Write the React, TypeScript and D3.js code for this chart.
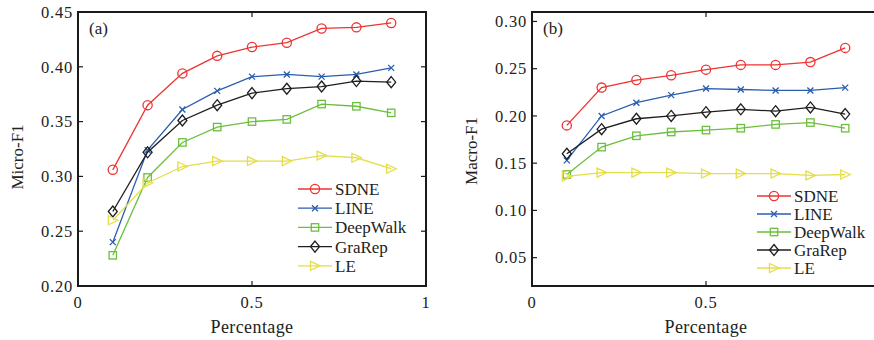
import React from "react";
import * as d3 from "d3";

const percentages = [0.1, 0.2, 0.3, 0.4, 0.5, 0.6, 0.7, 0.8, 0.9];
const methods = ["SDNE", "LINE", "DeepWalk", "GraRep", "LE"];

const microSDNE = [0.306, 0.365, 0.394, 0.41, 0.418, 0.422, 0.435, 0.436, 0.44];
const microLINE = [0.24, 0.324, 0.361, 0.378, 0.391, 0.393, 0.391, 0.393, 0.399];
const microDeepWalk = [0.228, 0.299, 0.331, 0.345, 0.35, 0.352, 0.366, 0.364, 0.358];
const microGraRep = [0.268, 0.322, 0.351, 0.365, 0.376, 0.38, 0.382, 0.387, 0.386];
const microLE = [0.26, 0.294, 0.309, 0.314, 0.314, 0.314, 0.319, 0.317, 0.307];

const macroSDNE = [0.19, 0.23, 0.238, 0.243, 0.249, 0.254, 0.254, 0.257, 0.272];
const macroLINE = [0.153, 0.2, 0.214, 0.222, 0.229, 0.228, 0.227, 0.227, 0.23];
const macroDeepWalk = [0.138, 0.167, 0.179, 0.183, 0.185, 0.187, 0.191, 0.193, 0.187];
const macroGraRep = [0.16, 0.186, 0.197, 0.2, 0.204, 0.207, 0.205, 0.209, 0.202];
const macroLE = [0.136, 0.14, 0.14, 0.14, 0.139, 0.139, 0.139, 0.137, 0.138];

const microTicks = [0.2, 0.25, 0.3, 0.35, 0.4, 0.45];
const macroTicks = [0.05, 0.1, 0.15, 0.2, 0.25, 0.3];
const xTicks = [0, 0.5, 1];

const colors: Record<string, string> = {
  SDNE: "#ee3333",
  LINE: "#2a5db0",
  DeepWalk: "#6cbf3c",
  GraRep: "#1e1e1e",
  LE: "#e4de48",
};

const FONT = "'Liberation Serif', 'Times New Roman', serif";
const W = 874;

function Marker({ kind, x, y, color }: { kind: string; x: number; y: number; color: string }) {
  const common = { fill: "none", stroke: color, strokeWidth: 1.3 };
  switch (kind) {
    case "SDNE":
      return <circle cx={x} cy={y} r={4.6} {...common} />;
    case "LINE":
      return (
        <path d={`M${x - 3},${y - 3}L${x + 3},${y + 3}M${x - 3},${y + 3}L${x + 3},${y - 3}`} {...common} />
      );
    case "DeepWalk":
      return <rect x={x - 3.7} y={y - 3.7} width={7.4} height={7.4} {...common} />;
    case "GraRep":
      return <path d={`M${x},${y - 5.5}L${x + 4.5},${y}L${x},${y + 5.5}L${x - 4.5},${y}Z`} {...common} />;
    default:
      return <path d={`M${x - 4.5},${y - 4.5}L${x + 5},${y}L${x - 4.5},${y + 4.5}Z`} {...common} />;
  }
}

type PanelProps = {
  left: number;
  right: number;
  top: number;
  bottom: number;
  yDomain: [number, number];
  yTicks: number[];
  series: number[][];
  yLabel: string;
  yLabelX: number;
  yLabelY: number;
  tag: string;
  legendX: number;
  legendY: number;
  legendStep: number;
  rightBorder: boolean;
};

function Panel(p: PanelProps) {
  const x = d3.scaleLinear().domain([0, 1]).range([p.left, p.right]);
  const y = d3.scaleLinear().domain(p.yDomain).range([p.bottom, p.top]);
  const line = d3
    .line<number>()
    .x((_, i) => x(percentages[i]))
    .y((d) => y(d));
  const tl = 5;
  const fmt = d3.format(".2f");

  return (
    <g fontFamily={FONT} fill="#222">
      {p.series.map((vals, si) => (
        <g key={methods[si]}>
          <path d={line(vals) || ""} fill="none" stroke={colors[methods[si]]} strokeWidth={1.3} />
          {vals.map((v, i) => (
            <Marker key={i} kind={methods[si]} x={x(percentages[i])} y={y(v)} color={colors[methods[si]]} />
          ))}
        </g>
      ))}

      {/* frame; panel (b) runs past the right edge of the picture */}
      <path
        d={
          p.rightBorder
            ? `M${p.left},${p.top}H${p.right}V${p.bottom}H${p.left}Z`
            : `M${p.right + 20},${p.top}H${p.left}V${p.bottom}H${p.right + 20}`
        }
        fill="none"
        stroke="#1a1a1a"
        strokeWidth={2}
      />

      {p.yTicks.map((t) => (
        <g key={t}>
          <line x1={p.left} x2={p.left + tl} y1={y(t)} y2={y(t)} stroke="#1a1a1a" strokeWidth={1.2} />
          <line x1={p.right} x2={p.right - tl} y1={y(t)} y2={y(t)} stroke="#1a1a1a" strokeWidth={1.2} />
          <text x={p.left - 5} y={y(t)} dy="0.35em" textAnchor="end" fontSize={16.5} letterSpacing={0.8}>
            {fmt(t)}
          </text>
        </g>
      ))}
      {xTicks
        .filter((t) => x(t) < W - 4)
        .map((t) => (
          <g key={t}>
            <line x1={x(t)} x2={x(t)} y1={p.bottom} y2={p.bottom - tl} stroke="#1a1a1a" strokeWidth={1.2} />
            <line x1={x(t)} x2={x(t)} y1={p.top} y2={p.top + tl} stroke="#1a1a1a" strokeWidth={1.2} />
            <text x={x(t)} y={308} textAnchor="middle" fontSize={16.5} letterSpacing={0.8}>
              {String(t)}
            </text>
          </g>
        ))}

      <text x={x(0.5)} y={333} textAnchor="middle" fontSize={18} letterSpacing={0.4}>
        Percentage
      </text>
      <text
        transform={`translate(${p.yLabelX},${p.yLabelY}) rotate(-90)`}
        textAnchor="middle"
        fontSize={17}
      >
        {p.yLabel}
      </text>
      <text x={p.left + 11} y={34} fontSize={17}>
        {p.tag}
      </text>

      {methods.map((m, i) => {
        const ly = p.legendY + i * p.legendStep;
        return (
          <g key={m}>
            <line x1={p.legendX} x2={p.legendX + 34} y1={ly} y2={ly} stroke={colors[m]} strokeWidth={1.3} />
            <Marker kind={m} x={p.legendX + 17} y={ly} color={colors[m]} />
            <text x={p.legendX + 37} y={ly} dy="0.35em" fontSize={17}>
              {m}
            </text>
          </g>
        );
      })}
    </g>
  );
}

export default function App() {
  return (
    <div style={{ position: "absolute", left: 0, top: 0 }}>
      <svg width={W} height={340} style={{ display: "block", background: "#fff" }}>
        <Panel
          left={78}
          right={426}
          top={12}
          bottom={286}
          yDomain={[0.2, 0.45]}
          yTicks={microTicks}
          series={[microSDNE, microLINE, microDeepWalk, microGraRep, microLE]}
          yLabel="Micro-F1"
          yLabelX={23}
          yLabelY={157}
          tag="(a)"
          legendX={298}
          legendY={189}
          legendStep={19.2}
          rightBorder={true}
        />
        <Panel
          left={532}
          right={880}
          top={12}
          bottom={286}
          yDomain={[0.02, 0.31]}
          yTicks={macroTicks}
          series={[macroSDNE, macroLINE, macroDeepWalk, macroGraRep, macroLE]}
          yLabel="Macro-F1"
          yLabelX={477}
          yLabelY={151}
          tag="(b)"
          legendX={757}
          legendY={196}
          legendStep={18}
          rightBorder={false}
        />
      </svg>
    </div>
  );
}
